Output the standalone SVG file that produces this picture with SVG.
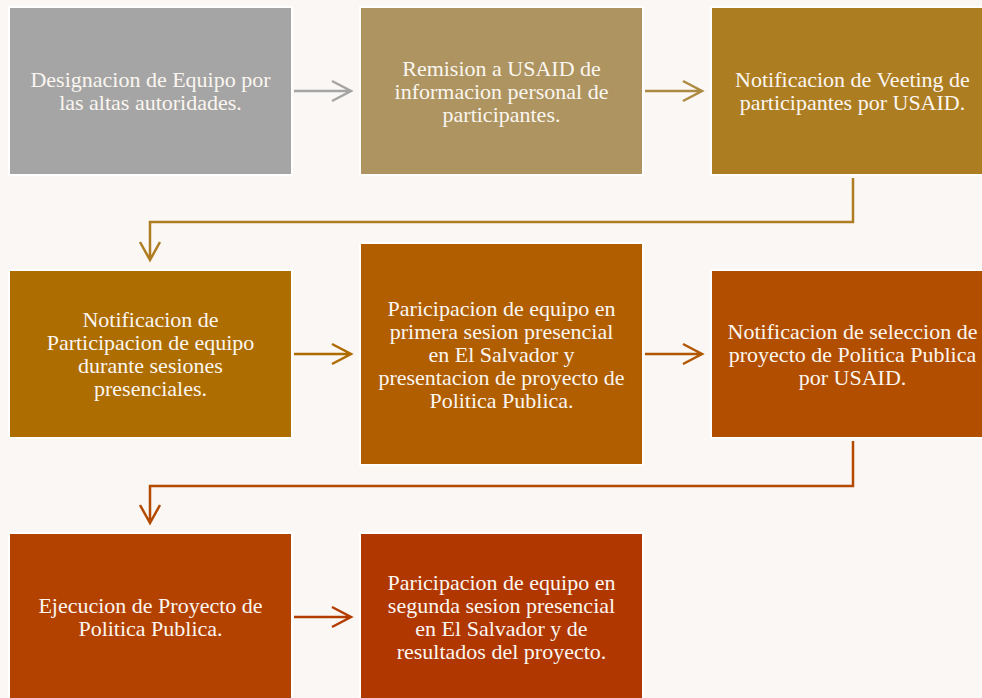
<svg xmlns="http://www.w3.org/2000/svg" width="982" height="698" viewBox="0 0 982 698">
<style>
.box{stroke:#ffffff;stroke-width:2}
.t{font-family:"Liberation Serif","Times New Roman",serif;font-size:22px;fill:#fbf6f0;text-anchor:middle}
.c{fill:none;stroke-width:2.5;stroke-linecap:butt;stroke-linejoin:miter}
</style>
<rect width="982" height="698" fill="#faf7f4"/>
<g id="connectors">
<path class="c" stroke="#a5a5a5" d="M294 91H351M332 81L351 91L332 101"/>
<path class="c" stroke="#ad8a42" d="M645 91H702M683 81L702 91L683 101"/>
<path class="c" stroke="#ae7d22" d="M853 178V222H150V260M140 242L150 260L160 242"/>
<path class="c" stroke="#af6a00" d="M294 354H351M332 344L351 354L332 364"/>
<path class="c" stroke="#b15700" d="M645 354H702M683 344L702 354L683 364"/>
<path class="c" stroke="#b34a00" d="M853 441V486H150V523M140 505L150 523L160 505"/>
<path class="c" stroke="#b33c00" d="M294 617H351M332 607L351 617L332 627"/>
</g>
<g id="n1"><rect class="box" x="9" y="7" width="283" height="168" fill="#a5a5a5"/>
<text class="t" x="150.5" y="87">Designacion de Equipo por</text><text class="t" x="150.5" y="110">las altas autoridades.</text></g>
<g id="n2"><rect class="box" x="360" y="7" width="283" height="168" fill="#ad9460"/>
<text class="t" x="501.5" y="75.5">Remision a USAID de</text><text class="t" x="501.5" y="98.5">informacion personal de</text><text class="t" x="501.5" y="121.5">participantes.</text></g>
<g id="n3"><rect class="box" x="711" y="7" width="283" height="168" fill="#ad7d22"/>
<text class="t" x="852.5" y="87">Notificacion de Veeting de</text><text class="t" x="852.5" y="110">participantes por USAID.</text></g>
<g id="n4"><rect class="box" x="9" y="270" width="283" height="168" fill="#ad6d00"/>
<text class="t" x="150.5" y="327">Notificacion de</text><text class="t" x="150.5" y="350">Participacion de equipo</text><text class="t" x="150.5" y="373">durante sesiones</text><text class="t" x="150.5" y="396">presenciales.</text></g>
<g id="n5"><rect class="box" x="360" y="243" width="283" height="222" fill="#b05e00"/>
<text class="t" x="501.5" y="315.5">Paricipacion de equipo en</text><text class="t" x="501.5" y="338.5">primera sesion presencial</text><text class="t" x="501.5" y="361.5">en El Salvador y</text><text class="t" x="501.5" y="384.5">presentacion de proyecto de</text><text class="t" x="501.5" y="407.5">Politica Publica.</text></g>
<g id="n6"><rect class="box" x="711" y="270" width="283" height="168" fill="#b24e00"/>
<text class="t" x="852.5" y="338.5">Notificacion de seleccion de</text><text class="t" x="852.5" y="361.5">proyecto de Politica Publica</text><text class="t" x="852.5" y="384.5">por USAID.</text></g>
<g id="n7"><rect class="box" x="9" y="533" width="283" height="170" fill="#b34200"/>
<text class="t" x="150.5" y="613">Ejecucion de Proyecto de</text><text class="t" x="150.5" y="636">Politica Publica.</text></g>
<g id="n8"><rect class="box" x="360" y="533" width="283" height="170" fill="#b03700"/>
<text class="t" x="501.5" y="590">Paricipacion de equipo en</text><text class="t" x="501.5" y="613">segunda sesion presencial</text><text class="t" x="501.5" y="636">en El Salvador y de</text><text class="t" x="501.5" y="659">resultados del proyecto.</text></g>
</svg>
